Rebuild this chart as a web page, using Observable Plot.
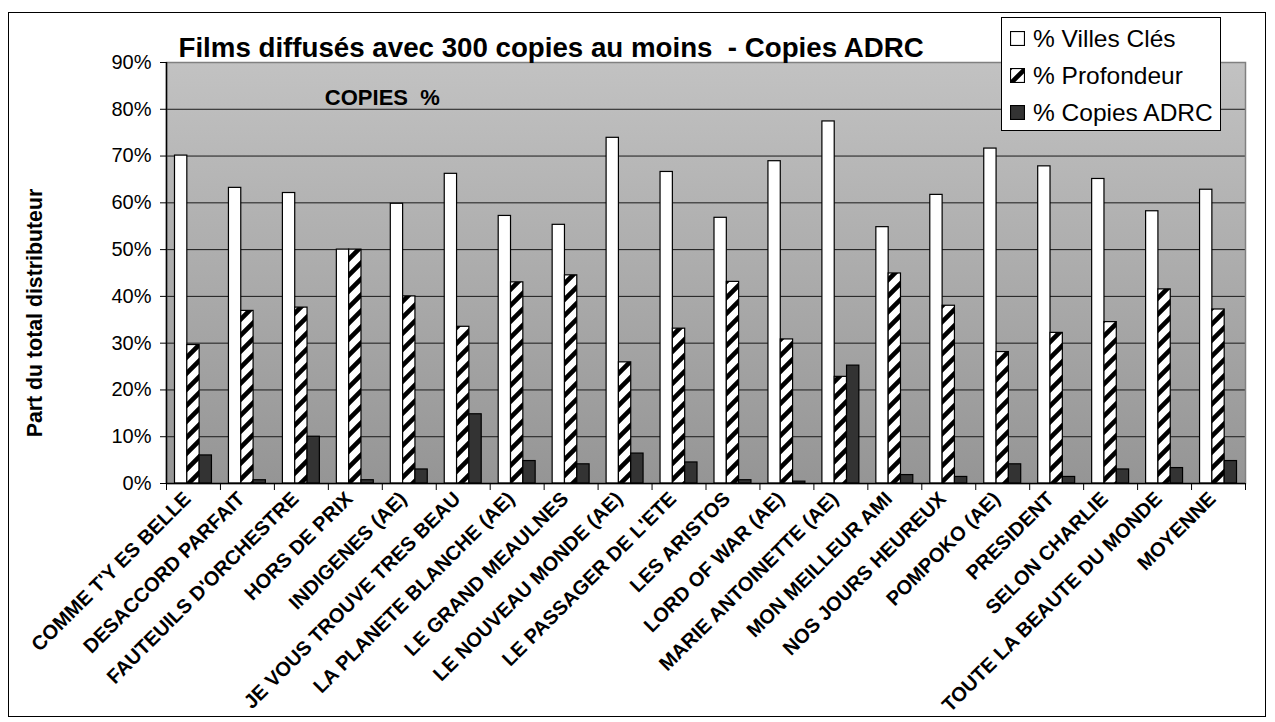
<!DOCTYPE html>
<html><head><meta charset="utf-8">
<script src="https://cdn.jsdelivr.net/npm/d3@7"></script>
<script src="https://cdn.jsdelivr.net/npm/@observablehq/plot@0.6"></script>
<style>
body{margin:0;background:#fff;font-family:"Liberation Sans",Arial,sans-serif;}
#wrap{position:relative;width:1275px;height:722px;overflow:hidden;}
#border{position:absolute;left:8px;top:12px;width:1258px;height:705px;border:1px solid #000;box-sizing:border-box;pointer-events:none}
#legend{position:absolute;left:1001px;top:17px;width:220px;height:114px;background:#fff;border:1px solid #000;box-sizing:border-box;padding-top:2px}
.item{display:flex;align-items:center;height:37px;font-size:24.5px;color:#000;white-space:nowrap}
.item svg{margin-left:8px;margin-right:8px}
</style></head><body>
<svg width="0" height="0" style="position:absolute">
  <defs>
    <pattern id="hatch" patternUnits="userSpaceOnUse" width="16" height="16">
      <rect width="16" height="16" fill="#fff"/>
      <path d="M-4,4 L4,-4 M0,16 L16,0 M12,20 L20,12" stroke="#000" stroke-width="4.6"/>
    </pattern>
    <linearGradient id="bg" x1="0" y1="0" x2="0" y2="1">
      <stop offset="0" stop-color="#c2c2c2"/>
      <stop offset="1" stop-color="#959595"/>
    </linearGradient>
  </defs>
</svg>
<div id="wrap"><div id="chart"></div><div id="legend"></div><div id="border"></div></div>
<script>
const films = ["COMME T'Y ES BELLE","DESACCORD PARFAIT","FAUTEUILS D'ORCHESTRE","HORS DE PRIX","INDIGENES (AE)","JE VOUS TROUVE TRES BEAU","LA PLANETE BLANCHE (AE)","LE GRAND MEAULNES","LE NOUVEAU MONDE (AE)","LE PASSAGER DE L'ETE","LES ARISTOS","LORD OF WAR (AE)","MARIE ANTOINETTE (AE)","MON MEILLEUR AMI","NOS JOURS HEUREUX","POMPOKO (AE)","PRESIDENT","SELON CHARLIE","TOUTE LA BEAUTE DU MONDE","MOYENNE"];
const villesCles = [70.1,63.2,62.1,50.0,59.8,66.2,57.2,55.3,73.9,66.6,56.8,68.9,77.4,54.8,61.7,71.6,67.8,65.1,58.2,62.8];
const profondeur = [29.6,36.9,37.6,50.0,40.0,33.5,43.0,44.5,25.9,33.1,43.1,30.8,22.8,44.9,38.0,28.1,32.2,34.5,41.5,37.2];
const copiesADRC = [6.0,0.7,10.0,0.7,3.0,14.8,4.8,4.1,6.4,4.5,0.7,0.4,25.2,1.8,1.4,4.1,1.4,3.0,3.3,4.8];
const seriesNames = ["% Villes Clés","% Profondeur","% Copies ADRC"];
const yTicks = [0,0.1,0.2,0.3,0.4,0.5,0.6,0.7,0.8,0.9];
const gridTicks = [0.1,0.2,0.3,0.4,0.5,0.6,0.7,0.8];
const title = "Films diffusés avec 300 copies au moins  - Copies ADRC";
const yLabel = "Part du total distributeur";
const innerLabel = "COPIES  %";

const rows = films.map((f,i)=>({film:f, villes:villesCles[i]/100, prof:profondeur[i]/100, adrc:copiesADRC[i]/100}));

const W = 1275, H = 722, mL = 166, mR = 30, mT = 62, mB = 239;
const pin = 0.315, pout = pin/2;
const step = (W - mL - mR) / (films.length - pin + 2*pout);
const bw = step * (1 - pin);
const third = bw / 3;
const font = "'Liberation Sans', Arial, sans-serif";

const chart = Plot.plot({
  width: W, height: H,
  marginLeft: mL, marginRight: mR, marginTop: mT, marginBottom: mB,
  style: {fontFamily: font, color: "#000", background: "transparent", overflow: "visible"},
  x: {type: "band", domain: films, paddingInner: pin, paddingOuter: pout, align: 0.5, round: false, axis: null},
  y: {domain: [0, 0.9], axis: null},
  marks: [
    Plot.frame({fill: "url(#bg)", stroke: null}),
    Plot.ruleY(gridTicks, {stroke: "#1a1a1a", strokeWidth: 1}),
    Plot.frame({fill: "none", stroke: "#808080", strokeWidth: 1.5}),
    Plot.barY(rows, {x: "film", y: "villes", fill: "#fff", stroke: "#000", strokeWidth: 1.2, insetRight: 2*third}),
    Plot.barY(rows, {x: "film", y: "prof", fill: "url(#hatch)", stroke: "#000", strokeWidth: 1.2, insetLeft: third, insetRight: third}),
    Plot.barY(rows, {x: "film", y: "adrc", fill: "#333", stroke: "#000", strokeWidth: 1.2, insetLeft: 2*third}),
    Plot.ruleY([0], {stroke: "#000", strokeWidth: 1.5}),
    Plot.ruleX([films[0]], {x: d => d, dx: -step/2, y1: 0, y2: 0.9, stroke: "#000", strokeWidth: 1.5}),
    Plot.axisY({ticks: yTicks, tickFormat: d => Math.round(d*100) + "%", tickSize: 6, tickPadding: 9, fontSize: 20, label: null}),
    Plot.axisX({tickSize: 7, tickFormat: () => "", dx: -step/2, label: null}),
    Plot.axisX({ticks: [films[films.length-1]], tickSize: 7, tickFormat: () => "", dx: step/2, label: null}),
    Plot.axisX({tickSize: 0, tickRotate: -45, tickPadding: 8, dx: -6, dy: 4, fontSize: 20, fontWeight: "bold", label: null}),
    Plot.text([title], {frameAnchor: "top-left", textAnchor: "start", dx: 12, dy: -25, fontSize: 27.7, fontWeight: "bold", fill: "#000"}),
    Plot.text([yLabel], {frameAnchor: "left", textAnchor: "middle", rotate: -90, dx: -131, dy: 40, fontSize: 21.3, fontWeight: "bold", fill: "#000"}),
    Plot.text([innerLabel], {x: () => films[3], y: () => 0.824, dx: step/2, fontSize: 22, fontWeight: "bold", fill: "#000"})
  ]
});
document.getElementById("chart").appendChild(chart);

const swatch = ["#fff", "url(#hatch)", "#333"];
const legend = document.getElementById("legend");
seriesNames.forEach((s, i) => {
  const d = document.createElement("div");
  d.className = "item";
  d.innerHTML = `<svg width="15" height="15"><rect x="0.5" y="0.5" width="14" height="14" fill="${swatch[i]}" stroke="#000" stroke-width="1.2"/></svg><span>${s}</span>`;
  legend.appendChild(d);
});
</script>
</body></html>
